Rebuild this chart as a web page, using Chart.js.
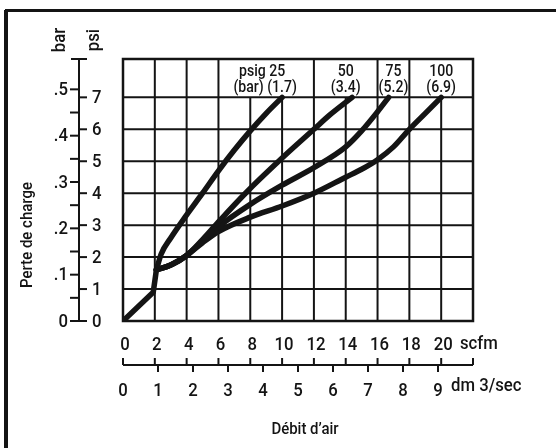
<!DOCTYPE html>
<html>
<head>
<meta charset="utf-8">
<script src="https://cdn.jsdelivr.net/npm/chart.js@4.4.1/dist/chart.umd.min.js"></script>
<style>
html, body { margin: 0; padding: 0; background: #fff; }
</style>
</head>
<body>
<canvas id="perteChart" width="556" height="448"></canvas>
<script>
// débit d'air (scfm) et perte de charge (psi) lus sur le graphique
// tronc commun aux quatre courbes, puis une courbe par pression
const troncX = [0, 1.9, 2.1];
const troncY = [0, 0.9, 1.6];
const psig25X = [2.1, 2.4, 3.0, 3.9, 5.0, 6.0, 7.0, 8.0, 9.0, 10.0];
const psig25Y = [1.6, 2.1, 2.6, 3.25, 4.0, 4.7, 5.35, 5.95, 6.5, 7.0];
const psig50X = [2.1, 3.0, 4.0, 5.0, 6.0, 7.7, 10.0, 12.0, 13.0, 14.4];
const psig50Y = [1.6, 1.75, 2.05, 2.55, 3.1, 4.0, 5.1, 6.0, 6.45, 7.0];
const psig75X = [2.1, 3.0, 4.0, 5.0, 6.0, 8.0, 10.0, 12.0, 14.0, 15.0, 16.0, 16.7];
const psig75Y = [1.6, 1.75, 2.05, 2.5, 2.95, 3.65, 4.25, 4.8, 5.45, 5.95, 6.55, 7.0];
const psig100X = [2.1, 3.0, 4.0, 5.0, 6.0, 8.0, 10.0, 12.0, 14.0, 15.0, 16.0, 17.0, 18.0, 19.0, 20.0];
const psig100Y = [1.6, 1.75, 2.05, 2.45, 2.8, 3.25, 3.6, 4.0, 4.5, 4.75, 5.05, 5.45, 6.0, 6.5, 7.0];

// étiquettes
const psigLabels = ['psig 25', '50', '75', '100'];
const barLabels = ['(bar) (1.7)', '(3.4)', '(5.2)', '(6.9)'];
const labelScfm = [8.75, 14, 17, 20];
const scfmTicks = [0, 2, 4, 6, 8, 10, 12, 14, 16, 18, 20];
const dmTicks = [0, 1, 2, 3, 4, 5, 6, 7, 8, 9];
const psiTicks = [0, 1, 2, 3, 4, 5, 6, 7];
const barTicks = [0, 0.1, 0.2, 0.3, 0.4, 0.5];
const shortGridCols = [8, 10, 14, 20]; // lignes coupées par les étiquettes du haut

const SCFM_MAX = 22;
const DM_MAX = 10;
const PSI_MAX = 8.2;
const PSI_PER_BAR = 14.5;

const FONT = 'Roboto, "DejaVu Sans Condensed", sans-serif';
const INK = '#141414';

function toPoints(xs, ys) {
    return xs.map((v, i) => ({ x: v, y: ys[i] }));
}

function curve(xs, ys, mode) {
    return {
        data: toPoints(xs, ys),
        showLine: true,
        borderColor: INK,
        borderWidth: 5.5,
        borderCapStyle: 'round',
        borderJoinStyle: 'round',
        cubicInterpolationMode: mode || 'monotone',
        tension: mode === 'default' ? 0 : 0.4,
        pointRadius: 0,
        fill: false
    };
}

function line(ctx, x1, y1, x2, y2) {
    ctx.beginPath();
    ctx.moveTo(x1, y1);
    ctx.lineTo(x2, y2);
    ctx.stroke();
}

// texte étroit : police resserrée horizontalement
function text(ctx, str, x, y, size, align, rot) {
    ctx.save();
    ctx.font = '500 ' + size + 'px ' + FONT;
    ctx.fillStyle = INK;
    ctx.textAlign = align || 'center';
    ctx.textBaseline = 'middle';
    ctx.translate(x, y);
    if (rot) ctx.rotate(rot);
    ctx.scale(0.88, 1);
    ctx.fillText(str, 0, 0);
    ctx.restore();
}

const gridAndAxes = {
    id: 'gridAndAxes',
    beforeDraw(chart) {
        const ctx = chart.ctx;
        ctx.save();
        ctx.fillStyle = '#fff';
        ctx.fillRect(0, 0, chart.width, chart.height);
        // cadre
        ctx.strokeStyle = INK;
        ctx.lineWidth = 4;
        line(ctx, 6, 10, 6, chart.height);
        ctx.lineWidth = 3;
        line(ctx, 5, 10.5, chart.width, 10.5);
        ctx.restore();
    },
    beforeDatasetsDraw(chart) {
        const { ctx, scales: { x, y } } = chart;
        ctx.save();
        ctx.strokeStyle = INK;
        ctx.lineWidth = 2;
        psiTicks.forEach(v => {
            if (v > 0) line(ctx, x.left, y.getPixelForValue(v), x.right, y.getPixelForValue(v));
        });
        scfmTicks.forEach(v => {
            if (v <= 0) return;
            const top = shortGridCols.includes(v) ? y.getPixelForValue(7) : y.top;
            line(ctx, x.getPixelForValue(v), top, x.getPixelForValue(v), y.bottom);
        });
        ctx.lineWidth = 2.5;
        ctx.strokeRect(x.left, y.top, x.right - x.left, y.bottom - y.top);
        ctx.restore();
    },
    afterDraw(chart) {
        const { ctx, scales: { x, y, xd, yb } } = chart;
        ctx.save();
        ctx.strokeStyle = INK;
        ctx.lineWidth = 2;

        // axe vertical bar / psi
        const ax = 79;
        line(ctx, ax, y.top, ax, y.bottom);
        line(ctx, ax - 8, y.top, ax + 8, y.top);
        for (let i = 0; i <= 10; i++) {
            const py = yb.getPixelForValue(i * 0.05);
            line(ctx, ax - 9, py, ax, py);
        }
        psiTicks.forEach(v => {
            const py = y.getPixelForValue(v);
            line(ctx, ax, py, ax + 8, py);
            text(ctx, String(v), ax + 13, py + 1, 19, 'left');
        });
        barTicks.forEach(v => {
            const lbl = v === 0 ? '0' : '.' + Math.round(v * 10);
            text(ctx, lbl, ax - 11, yb.getPixelForValue(v) + 1, 19, 'right');
        });
        text(ctx, 'bar', 60, 40, 19, 'center', -Math.PI / 2);
        text(ctx, 'psi', 94, 40, 19, 'center', -Math.PI / 2);
        text(ctx, 'Perte de charge', 28, 235, 17, 'center', -Math.PI / 2);

        // axe horizontal scfm / dm3/sec
        const ay = 365;
        line(ctx, x.left, ay, x.right, ay);
        for (let v = 0; v <= SCFM_MAX; v += 2) {
            const px = x.getPixelForValue(v);
            line(ctx, px, ay - 7, px, ay);
        }
        scfmTicks.forEach(v => {
            text(ctx, String(v), x.getPixelForValue(v) + 2, 345, 19, 'center');
        });
        dmTicks.forEach(v => {
            const px = xd.getPixelForValue(v);
            if (v > 0) line(ctx, px, ay, px, ay + 7);
            text(ctx, String(v), px, 391, 19, 'center');
        });
        text(ctx, 'scfm', 460, 344, 19, 'left');
        text(ctx, 'dm 3/sec', 451, 386, 19, 'left');
        text(ctx, 'Débit d\u2019air', 305, 430, 17, 'center');

        // étiquettes des courbes
        psigLabels.forEach((s, i) => {
            const px = x.getPixelForValue(labelScfm[i]);
            text(ctx, s, px, y.getPixelForValue(7.8), 16, 'center');
            text(ctx, barLabels[i], px + (i === 0 ? 3 : 0), y.getPixelForValue(7.3), 16, 'center');
        });
        ctx.restore();
    }
};

new Chart(document.getElementById('perteChart').getContext('2d'), {
    type: 'scatter',
    data: {
        datasets: [
            curve(troncX, troncY, 'default'),
            curve(psig25X, psig25Y),
            curve(psig50X, psig50Y),
            curve(psig75X, psig75Y),
            curve(psig100X, psig100Y)
        ]
    },
    options: {
        responsive: false,
        animation: false,
        devicePixelRatio: 1,
        layout: { padding: { left: 123, right: 83, top: 59, bottom: 127 } },
        plugins: { legend: { display: false }, tooltip: { enabled: false } },
        scales: {
            x: { type: 'linear', min: 0, max: SCFM_MAX, display: false },
            y: { type: 'linear', min: 0, max: PSI_MAX, display: false },
            xd: { type: 'linear', axis: 'x', position: 'bottom', min: 0, max: DM_MAX, display: false },
            yb: { type: 'linear', axis: 'y', position: 'left', min: 0, max: PSI_MAX / PSI_PER_BAR, display: false }
        }
    },
    plugins: [gridAndAxes]
});
</script>
</body>
</html>
